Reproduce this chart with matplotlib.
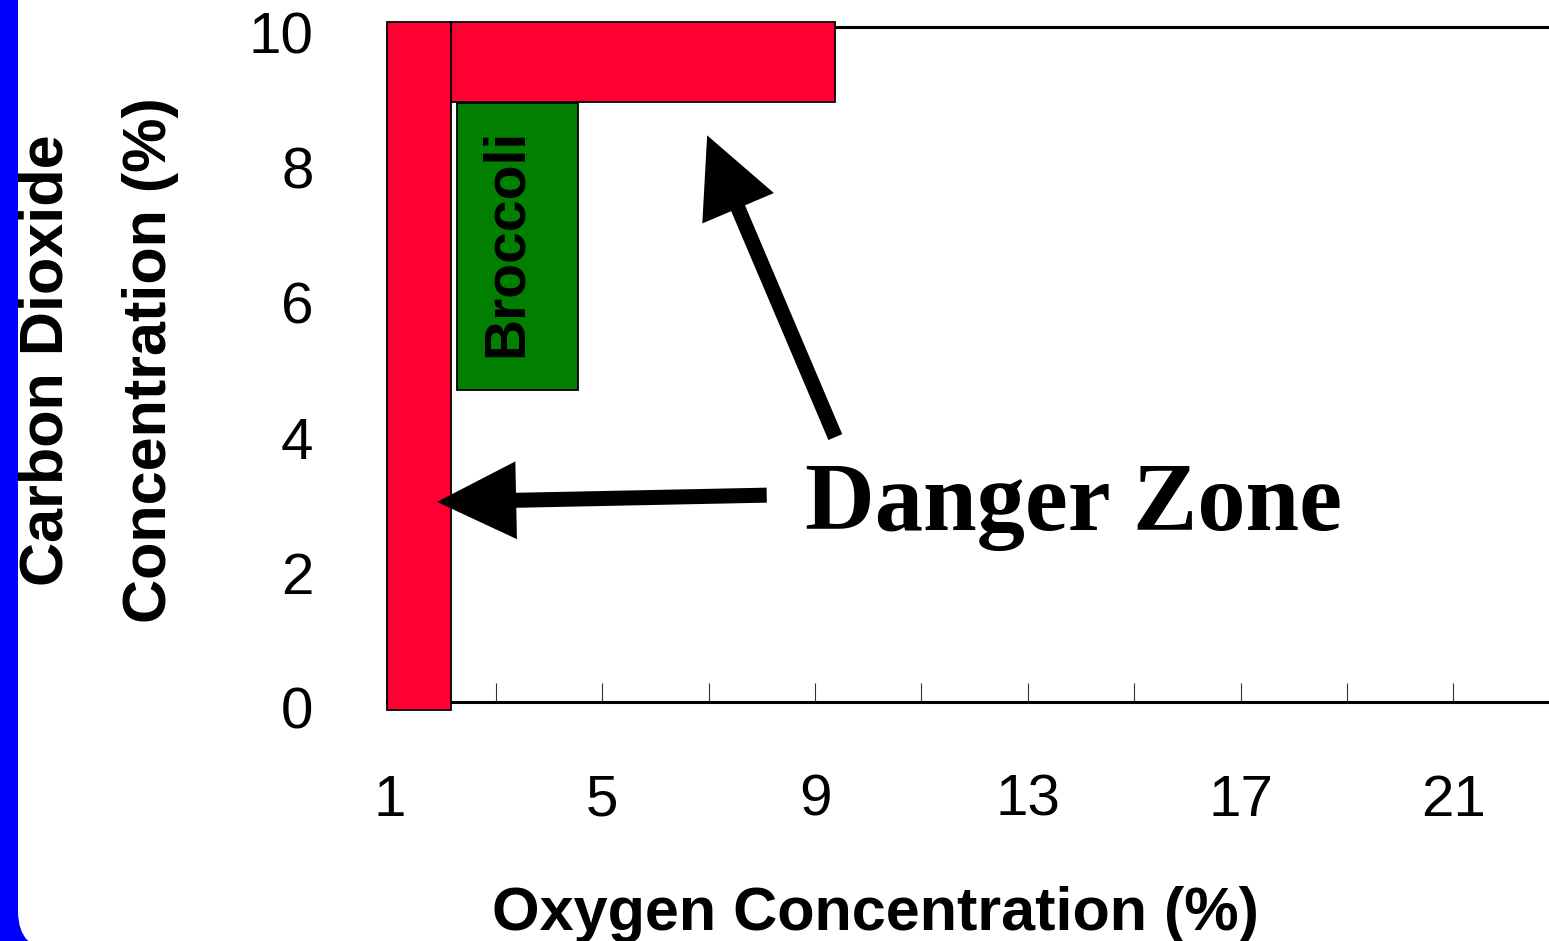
import matplotlib

matplotlib.use("Agg")
import matplotlib.pyplot as plt
import matplotlib.transforms as mtransforms
from matplotlib.patches import FancyBboxPatch

plt.rcParams["font.family"] = ["Liberation Sans", "DejaVu Sans"]

# Storage zones (O2 %, CO2 %): two danger bands and the broccoli window
zone_names = ["Low oxygen", "High carbon dioxide", "Broccoli"]
zone_o2_low = [0.95, 2.15, 2.27]
zone_o2_high = [2.15, 9.38, 4.54]
zone_co2_low = [-0.12, 8.88, 4.62]
zone_co2_high = [10.07, 10.07, 8.87]
zone_colors = ["#FF0033", "#FF0033", "#007F00"]

x_major = [1, 5, 9, 13, 17, 21]
x_minor = [3, 7, 11, 15, 19]
y_ticks = [0, 2, 4, 6, 8, 10]

# arrow (tail -> tip) in data units
arrow_tails = [(8.09, 3.06), (9.38, 3.92)]
arrow_tips = [(1.89, 2.96), (6.97, 8.39)]

fig = plt.figure(figsize=(15.49, 9.41), dpi=100)
fig.patch.set_facecolor("#0000FF")
fig.patches.append(FancyBboxPatch((0.18, -0.10), 20, 20,
                                  boxstyle="round,pad=0,rounding_size=0.4",
                                  transform=fig.dpi_scale_trans,
                                  fc="white", ec="none", zorder=-5))

ax = fig.add_axes([387 / 1549, 1 - 701.7 / 941, 1 - 387 / 1549, (701.7 - 26.7) / 941])
ax.set_zorder(2)
ax.patch.set_alpha(0)
ax.set_xlim(0.95, 22.80)
ax.set_ylim(0, 10)

for lo, hi, b, t, c in zip(zone_o2_low, zone_o2_high, zone_co2_low, zone_co2_high, zone_colors):
    ax.bar(lo, t - b, width=hi - lo, bottom=b, align="edge", color=c,
           edgecolor="black", linewidth=1.3, clip_on=False, zorder=5)

ax.text(3.21, 6.80, zone_names[2], rotation=90, ha="center", va="center",
        fontsize=41, fontweight="bold", color="black", zorder=6)

for tail, tip in zip(arrow_tails, arrow_tips):
    ax.annotate("", xy=tip, xytext=tail, zorder=7,
                arrowprops=dict(arrowstyle="simple,head_length=57,head_width=56,tail_width=10.8",
                                mutation_scale=1, fc="black", ec="none",
                                shrinkA=0, shrinkB=0))

ax.text(13.85, 2.54, "Danger Zone", ha="center", va="baseline", fontsize=69.5,
        fontweight="bold", family=["Liberation Serif", "DejaVu Serif"], zorder=6)

ax.set_xticks(x_major)
ax.set_xticklabels([str(v) for v in x_major])
ax.set_xticks(x_minor, minor=True)
ax.set_yticks(y_ticks)
ax.set_yticklabels([str(v) for v in y_ticks])
ax.tick_params(axis="x", which="both", direction="in", length=14, width=0.8,
               color="#333333", labelsize=42, pad=52)
ax.tick_params(axis="y", length=0, labelsize=42, pad=53)

# y labels sit a little below their gridline in the original
shift = mtransforms.ScaledTranslation(0, -0.06, fig.dpi_scale_trans)
for lab in ax.get_yticklabels():
    lab.set_transform(lab.get_transform() + shift)

ax.spines["right"].set_visible(False)
ax.spines["bottom"].set_linewidth(2.2)
ax.spines["top"].set_linewidth(2.2)
ax.spines["left"].set_linewidth(1.0)

fig.text(76 / 1549, 1 - 360 / 941, "Carbon Dioxide", rotation=90, ha="right", va="center",
         fontsize=44, fontweight="bold")
fig.text(179 / 1549, 1 - 360 / 941, "Concentration (%)", rotation=90, ha="right", va="center",
         fontsize=44, fontweight="bold")
fig.text(875 / 1549, 1 - 930 / 941, "Oxygen Concentration (%)", ha="center", va="baseline",
         fontsize=44, fontweight="bold")

fig.savefig("out.png", dpi=100, facecolor=fig.get_facecolor())
